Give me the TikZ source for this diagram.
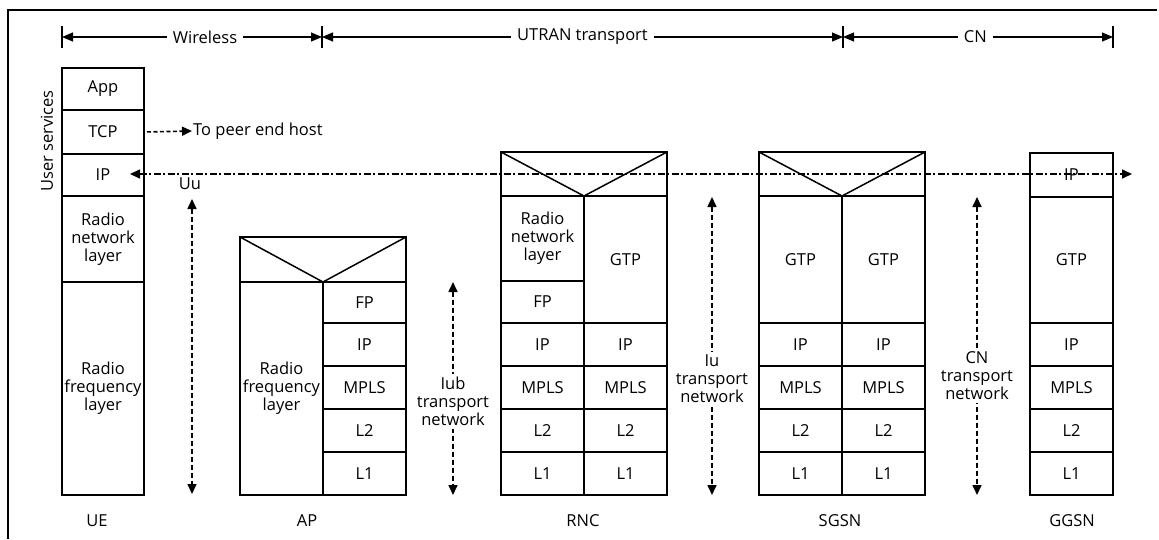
\documentclass[tikz,border=0pt]{standalone}
\usepackage{fontspec}
\setmainfont{Open Sans}
\usetikzlibrary{arrows.meta,positioning}
\newcommand{\lyrfont}{\fontsize{16.5}{18}\selectfont}

\begin{document}
\begin{tikzpicture}[x=1pt, y=-1pt,
    lyr/.style={draw, line width=1.5pt, inner sep=0pt, outer sep=0pt, align=center, font=\lyrfont, minimum width=83pt, minimum height=43pt},
    hdr/.style={lyr, minimum width=166pt, minimum height=44pt},
    tag/.style={font=\lyrfont, inner sep=1pt},
    gap/.style={font=\lyrfont, fill=white, inner xsep=6pt, inner ysep=3pt, align=center},
    link/.style={line width=1.6pt, dash pattern=on 5pt off 3pt},
    ipline/.style={line width=1.6pt, dash pattern=on 7pt off 2.5pt on 2pt off 2.5pt},
    span/.style={line width=1.1pt, {Triangle[length=11pt,width=9pt]}-{Triangle[length=11pt,width=9pt]}},
    bar/.style={line width=1.5pt},
    heavy/.style={line width=2.8pt},
    >={Triangle[length=10pt, width=9pt]}]

  \useasboundingbox[fill=white] (0,0) rectangle (1159,539);
  % frame
  \draw[line width=2.6pt] (8,539) -- (8,10) -- (1157,10);

  % spans on top
  \coordinate (sp0) at (62,37);
  \coordinate (sp1) at (322,37);
  \coordinate (sp2) at (843,37);
  \coordinate (sp3) at (1113,37);
  \foreach \c in {sp0,sp1,sp2,sp3}
    \draw[bar] ([yshift=-11pt]\c) -- ([yshift=11pt]\c);
  \draw[span] (sp0) -- node[gap, pos=0.55] {Wireless} (sp1);
  \draw[span] (sp1) -- node[gap] {UTRAN transport} (sp2);
  \draw[span] (sp2) -- node[gap, pos=0.49] {CN} (sp3);

  % UE
  \node[lyr, minimum width=82pt, minimum height=42pt, anchor=north west] (ue-app) at (62,68) {App};
  \node[lyr, minimum width=82pt, minimum height=44pt, below=0pt of ue-app] (ue-tcp) {TCP};
  \node[lyr, minimum width=82pt, minimum height=42pt, below=0pt of ue-tcp] (ue-ip) {IP};
  \node[lyr, minimum width=82pt, minimum height=86pt, below=0pt of ue-ip] (ue-rnl) {Radio\\network\\layer};
  \node[lyr, minimum width=82pt, minimum height=213pt, below=0pt of ue-rnl] (ue-rfl) {Radio\\frequency\\layer};
  \node[tag, rotate=90] (usr) at (47,141) {User services};

  % AP
  \node[hdr, minimum height=45pt, anchor=north west] (ap-hd) at (240,237) {};
  \node[lyr, minimum height=213pt, anchor=north west] (ap-rfl) at (ap-hd.south west) {Radio\\frequency\\layer};
  \node[lyr, anchor=north east, minimum height=41pt] (ap-fp) at (ap-hd.south east) {FP};

  % RNC
  \node[hdr, anchor=north west] (rnc-hd) at (501,152) {};
  \node[lyr, minimum height=85pt, anchor=north west] (rnc-rnl) at (rnc-hd.south west) {Radio\\network\\layer};
  \node[lyr, minimum height=42pt, below=0pt of rnc-rnl] (rnc-fp) {FP};
  \node[lyr, minimum height=127pt, anchor=north east] (rnc-gtp) at (rnc-hd.south east) {GTP};

  % SGSN
  \node[hdr, anchor=north west] (sgsn-hd) at (759,152) {};
  \node[lyr, minimum height=127pt, anchor=north west] (sgsn-gtpa) at (sgsn-hd.south west) {GTP};
  \node[lyr, minimum height=127pt, anchor=north east] (sgsn-gtpb) at (sgsn-hd.south east) {GTP};

  % GGSN
  \node[lyr, minimum height=44pt, anchor=north west] (ggsn-ip) at (1030,153) {IP};
  \node[lyr, minimum height=126pt, below=0pt of ggsn-ip] (ggsn-gtp) {GTP};

  % transport rows under every column
  \foreach \col in {ap-fp, rnc-fp, rnc-gtp, sgsn-gtpa, sgsn-gtpb, ggsn-gtp} {
    \node[lyr, below=0pt of \col] (\col-ip) {IP};
    \node[lyr, below=0pt of \col-ip] (\col-mpls) {MPLS};
    \node[lyr, below=0pt of \col-mpls] (\col-l2) {L2};
    \node[lyr, below=0pt of \col-l2] (\col-l1) {L1};
  }

  % header wedges and heavy rules
  \foreach \hd in {ap-hd, rnc-hd, sgsn-hd}
    \draw[line width=1.5pt] (\hd.north west) -- (\hd.south) -- (\hd.north east);
  \draw[heavy] (ap-rfl.north east) -- (ap-rfl.south east);
  \draw[heavy] (rnc-hd.south west) -- (rnc-hd.south east);
  \draw[heavy] (sgsn-hd.south west) -- (sgsn-hd.south east);
  \draw[heavy] (ggsn-ip.south west) -- (ggsn-ip.south east);

  % node names
  \node[tag] (ue-lbl) at (97,521) {UE};
  \node[tag] (ap-lbl) at (307,521) {AP};
  \node[tag] (rnc-lbl) at (583,521) {RNC};
  \node[tag] (sgsn-lbl) at (840,521) {SGSN};
  \node[tag] (ggsn-lbl) at (1072,521) {GGSN};

  % peer and IP path
  \node[tag, anchor=west] (peer) at (192,131) {To peer end host};
  \draw[link, ->, dash pattern=on 4pt off 2.5pt, shorten <=3pt] (ue-tcp.east) -- (peer.west);
  \coordinate (ip-l) at (130,174);
  \coordinate (ip-r) at (1132,174);
  \draw[ipline, <->] (ip-l) -- (ip-r);

  % interfaces
  \node[tag] (uu) at (190,184) {Uu};
  \coordinate (uu-top) at (192,199);
  \coordinate (uu-bot) at (192,494);
  \draw[link, <->] (uu-top) -- (uu-bot);
  \coordinate (iub-top) at (453,282);
  \coordinate (iub-bot) at (453,495);
  \draw[link, <->] (iub-top) -- node[gap, pos=0.56] {Iub\\transport\\network} (iub-bot);
  \coordinate (iu-top) at (712,197);
  \coordinate (iu-bot) at (712,495);
  \draw[link, <->] (iu-top) -- node[gap, pos=0.61] {Iu\\transport\\network} (iu-bot);
  \coordinate (cn-top) at (977,197);
  \coordinate (cn-bot) at (977,495);
  \draw[link, <->] (cn-top) -- node[gap, pos=0.6] {CN\\transport\\network} (cn-bot);
\end{tikzpicture}
\end{document}
